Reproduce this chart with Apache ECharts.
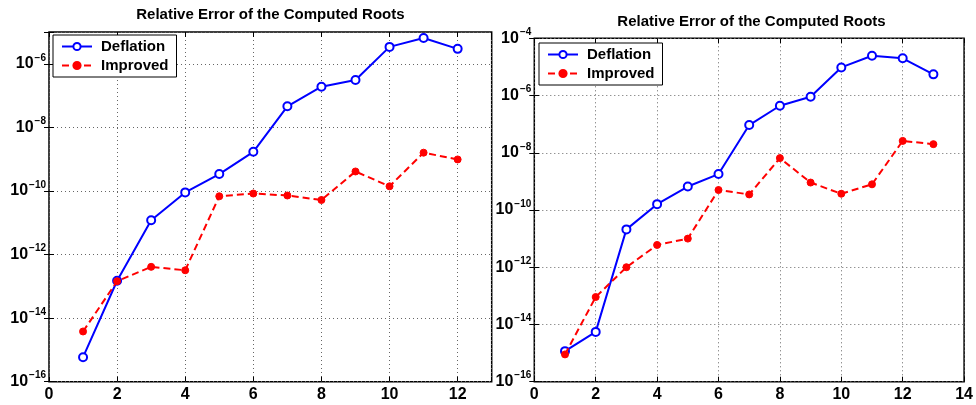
<!DOCTYPE html>
<html>
<head>
<meta charset="utf-8">
<script src="https://cdn.jsdelivr.net/npm/echarts@6/dist/echarts.min.js"></script>
<style>
html,body{margin:0;padding:0;background:#fff;}
#chart{width:976px;height:405px;}
</style>
</head>
<body>
<div id="chart"></div>
<script>
// ---- data ----
const titleText = 'Relative Error of the Computed Roots';
const seriesNames = ['Deflation', 'Improved'];

const leftX = [1, 2, 3, 4, 5, 6, 7, 8, 9, 10, 11, 12];
const leftDeflation = [5.9e-16, 1.5e-13, 1.2e-11, 9e-11, 3.4e-10, 1.7e-9, 4.6e-8, 1.9e-7, 3.1e-7, 3.4e-6, 6.5e-6, 2.95e-6];
const leftImproved  = [3.8e-15, 1.45e-13, 4.1e-13, 3.2e-13, 6.8e-11, 8.3e-11, 7.2e-11, 5.2e-11, 4.1e-10, 1.4e-10, 1.6e-9, 9.8e-10];

const rightX = [1, 2, 3, 4, 5, 6, 7, 8, 9, 10, 11, 12, 13];
const rightDeflation = [1.17e-15, 5.5e-15, 2.1e-11, 1.6e-10, 6.6e-10, 1.8e-9, 9.3e-8, 4.4e-7, 9.1e-7, 9.6e-6, 2.45e-5, 2.0e-5, 5.5e-6];
const rightImproved  = [9e-16, 9.1e-14, 1.0e-12, 6.0e-12, 1.0e-11, 5e-10, 3.5e-10, 6.5e-9, 9.1e-10, 3.7e-10, 7.9e-10, 2.6e-8, 2.0e-8];

const leftXTicks = [0, 2, 4, 6, 8, 10, 12];
const rightXTicks = [0, 2, 4, 6, 8, 10, 12, 14];
const leftYExp = [-16, -5];
const rightYExp = [-16, -4];

// ---- chart ----
const FONT = '"Liberation Sans", Arial, Helvetica, sans-serif';
const pairs = (xs, ys) => xs.map((x, i) => [x, ys[i]]);

function yLabel(v) {
  const e = Math.round(Math.log10(v));
  if (e % 2 !== 0) return '';
  return '{a|10}{b|' + (e < 0 ? '\u2212' + (-e) : e) + '}';
}
const yRich = {
  a: { fontSize: 16, fontWeight: 'bold', fontFamily: FONT, color: '#000', lineHeight: 16, verticalAlign: 'bottom' },
  b: { fontSize: 10, fontWeight: 'bold', fontFamily: FONT, color: '#000', lineHeight: 10, verticalAlign: 'bottom', padding: [0, 0, 9, 1] }
};
const grid = { type: [1, 3], color: '#666', width: 1 };
const tick = { show: true, inside: true, length: 5, lineStyle: { color: '#000', width: 1 } };

function xAxes(gi, maxX, ticks) {
  return [
    { type: 'value', gridIndex: gi, min: 0, max: maxX, interval: 2, position: 'bottom',
      axisLine: { show: false }, axisTick: tick,
      splitLine: { show: true, lineStyle: grid },
      axisLabel: { margin: 5, fontSize: 16, fontWeight: 'bold', fontFamily: FONT, color: '#000',
        formatter: v => ticks.indexOf(v) >= 0 ? String(v) : '' } },
    { type: 'value', gridIndex: gi, min: 0, max: maxX, interval: 2, position: 'top',
      axisLine: { show: false }, axisTick: tick, splitLine: { show: false }, axisLabel: { show: false } }
  ];
}
function yAxes(gi, ex) {
  return [
    { type: 'log', logBase: 10, gridIndex: gi, min: Math.pow(10, ex[0]), max: Math.pow(10, ex[1]), interval: 2, position: 'left',
      axisLine: { show: false }, axisTick: tick,
      splitLine: { show: true, lineStyle: grid },
      axisLabel: { margin: 3, formatter: yLabel, rich: yRich } },
    { type: 'log', logBase: 10, gridIndex: gi, min: Math.pow(10, ex[0]), max: Math.pow(10, ex[1]), interval: 2, position: 'right',
      axisLine: { show: false }, axisTick: tick, splitLine: { show: false }, axisLabel: { show: false } }
  ];
}

function lineSeries(name, xi, yi, data) {
  const defl = name === seriesNames[0];
  return {
    name, type: 'line', xAxisIndex: xi, yAxisIndex: yi, data,
    symbol: defl ? 'emptyCircle' : 'circle',
    symbolSize: defl ? 8 : 7,
    showAllSymbol: true,
    z: defl ? 3 : 4,
    lineStyle: { color: defl ? '#0000ff' : '#ff0000', width: 2, type: defl ? 'solid' : [7, 4] },
    itemStyle: { color: defl ? '#0000ff' : '#ff0000', borderColor: defl ? '#0000ff' : '#ff0000', borderWidth: defl ? 2 : 1 },
    emphasis: { disabled: true },
    animation: false
  };
}

function legend(left, top) {
  return {
    left, top, orient: 'vertical', data: seriesNames,
    backgroundColor: '#fff', borderColor: '#000', borderWidth: 1,
    padding: [4, 8, 4, 8], itemGap: 4, itemWidth: 30, itemHeight: 9,
    textStyle: { fontSize: 15, fontWeight: 'bold', fontFamily: FONT, color: '#000', lineHeight: 15, padding: [0, 0, 0, 4] },
    selectedMode: false
  };
}

const chart = echarts.init(document.getElementById('chart'), null, { renderer: 'canvas' });
chart.setOption({
  animation: false,
  backgroundColor: '#fff',
  title: [
    { text: titleText, left: 270.4, top: 7, textAlign: 'center', padding: 0,
      textStyle: { fontSize: 15, fontWeight: 'bold', fontFamily: FONT, color: '#000' } },
    { text: titleText, left: 751.5, top: 14, textAlign: 'center', padding: 0,
      textStyle: { fontSize: 15, fontWeight: 'bold', fontFamily: FONT, color: '#000' } }
  ],
  legend: [legend(53, 35), legend(539, 43)],
  grid: [
    { left: 49, top: 32, width: 442.7, height: 349.7, show: true, borderColor: '#000', borderWidth: 1.5, backgroundColor: '#fff', containLabel: false },
    { left: 534.3, top: 38.3, width: 434.4, height: 343.4, show: true, borderColor: '#000', borderWidth: 1.5, backgroundColor: '#fff', containLabel: false }
  ],
  xAxis: [...xAxes(0, 13, leftXTicks), ...xAxes(1, 14, rightXTicks)],
  yAxis: [...yAxes(0, leftYExp), ...yAxes(1, rightYExp)],
  series: [
    lineSeries(seriesNames[0], 0, 0, pairs(leftX, leftDeflation)),
    lineSeries(seriesNames[1], 0, 0, pairs(leftX, leftImproved)),
    lineSeries(seriesNames[0], 2, 2, pairs(rightX, rightDeflation)),
    lineSeries(seriesNames[1], 2, 2, pairs(rightX, rightImproved))
  ]
});
</script>
</body>
</html>
